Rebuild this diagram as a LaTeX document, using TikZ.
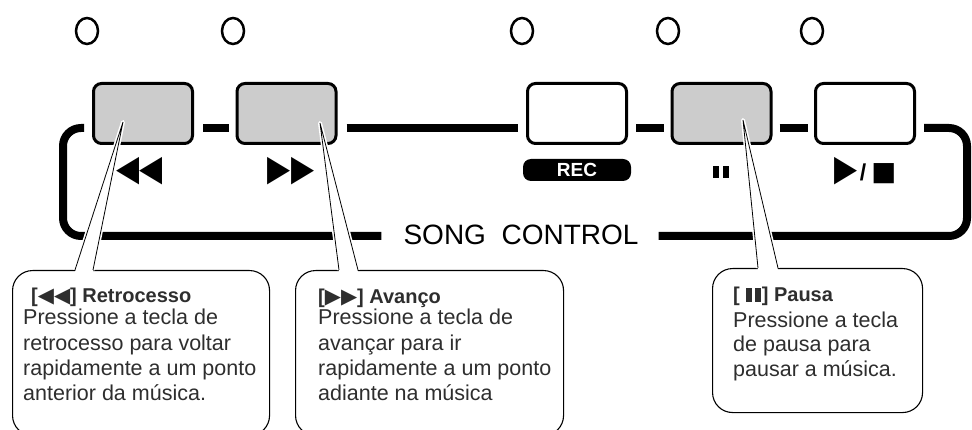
\documentclass[tikz,border=0pt]{standalone}
\usepackage{graphicx}
\usepackage{fontspec}
\setmainfont{Liberation Sans}
\newfontfamily\symfont{DejaVu Sans}
\usetikzlibrary{positioning,shapes.geometric}

\definecolor{keygray}{HTML}{CCCCCC}
\definecolor{inkgray}{HTML}{2E2E2E}

\tikzset{
  key/.style={draw, line width=3pt, rounded corners=8pt, minimum width=99pt,
    minimum height=60pt, inner sep=0pt},
  rail/.style={line width=8pt},
  lamp/.style={draw, ellipse, line width=2.5pt, minimum width=22pt,
    minimum height=26pt, inner sep=0pt},
  sym/.style={inner sep=0pt, font=\symfont\fontsize{24}{24}\selectfont},
  callout/.style={draw, line width=1.1pt, rounded corners=20pt, fill=white,
    inner sep=0pt, anchor=north west},
  halo/.style={white, line width=4pt, line join=round},
  pointer/.style={line width=0.8pt, line join=miter},
  ttl/.style={anchor=base west, inner sep=0pt, text=inkgray,
    font=\fontsize{20}{20}\selectfont\bfseries},
  txt/.style={anchor=base west, inner sep=0pt, text=inkgray,
    font=\fontsize{21.5}{25}\selectfont},
}
\newcommand\tsym[1]{{\symfont\fontsize{21}{21}\selectfont #1}}
\newcommand\keytri[1]{\scalebox{1.25}[1.5]{#1}}
\newcommand\pausebars[3]{\rule{#1}{#2}\hspace{#3}\rule{#1}{#2}}

\begin{document}
\begin{tikzpicture}[x=1pt, y=-1pt]
  \useasboundingbox (0,0) rectangle (972,430);

  % keys of the panel
  \node[key, fill=keygray] (rew)   at (143,113.5)   {};
  \node[key, fill=keygray] (ff)    at (286.5,113.5) {};
  \node[key]               (rec)   at (577,113.5)   {};
  \node[key, fill=keygray] (pause) at (721.5,113.5) {};
  \node[key]               (play)  at (865,113.5)   {};

  % lamps
  \foreach \n/\x in {rew/87, ff/233, rec/522, pause/668, play/812}
    \node[lamp] (lamp-\n) at (\x,31) {};

  % key labels
  \node[sym] (rewsym) at (139.5,171) {\keytri{◀◀}};
  \node[sym] (ffsym)  at (291,171) {\keytri{▶▶}};
  \node[fill=black, text=white, rounded corners=8pt, minimum width=108pt,
    minimum height=22pt, inner sep=0pt, font=\fontsize{19}{19}\selectfont\bfseries]
    (recsym) at (577,170) {REC};
  \node[inner sep=0pt] (pausesym) at (721,172) {\pausebars{6pt}{12pt}{4pt}};
  \node[sym] (playsym) at (865.5,171)
    {\keytri{▶}\hspace{2pt}{\rmfamily\bfseries\fontsize{23}{23}\selectfont /}\hspace{5pt}\scalebox{1.1}{■}};

  \node[inner sep=0pt, font=\fontsize{28}{28}\selectfont] (songctl) at (521,235)
    {SONG\ \ CONTROL};

  % rails
  \coordinate (railT) at (0,128);
  \coordinate (railB) at (0,236);
  \draw[rail, rounded corners=18pt] ([xshift=-8]rew.west |- railT) -- (63,128)
    -- (63,236) -- ([xshift=-22]songctl.west |- railB);
  \draw[rail] ([xshift=9]rew.east |- railT) -- ([xshift=-7]ff.west |- railT);
  \draw[rail] ([xshift=9]ff.east |- railT) -- ([xshift=-8]rec.west |- railT);
  \draw[rail] ([xshift=8]rec.east |- railT) -- ([xshift=-7]pause.west |- railT);
  \draw[rail] ([xshift=7]pause.east |- railT) -- ([xshift=-6]play.west |- railT);
  \draw[rail, rounded corners=18pt] ([xshift=8]play.east |- railT) -- (967,128)
    -- (967,236) -- ([xshift=20]songctl.east |- railB);

  % callouts
  \node[callout, minimum width=257pt, minimum height=165pt] (rewbox) at (12,270) {};
  \node[callout, minimum width=268pt, minimum height=165pt] (ffbox) at (295,270) {};
  \node[callout, minimum width=210pt, minimum height=144pt] (pausebox) at (712,268) {};

  \coordinate (rewtip)   at (123,122);
  \coordinate (fftip)    at (320,123);
  \coordinate (pausetip) at (743,120);
  \foreach \b/\t/\l/\r in {rewbox/rewtip/63/81, ffbox/fftip/44/63, pausebox/pausetip/46/66} {
    \draw[halo] ([xshift=\l]\b.north west) -- (\t) -- ([xshift=\r]\b.north west);
    \fill[white] ([shift={(\l,2)}]\b.north west) -- (\t) -- ([shift={(\r,2)}]\b.north west) -- cycle;
    \draw[pointer] ([xshift=\l]\b.north west) -- (\t) -- ([xshift=\r]\b.north west);
  }

  % texts
  \node[ttl] (rewttl) at (31,303) {[\tsym{◀◀}] Retrocesso};
  \foreach \s [count=\i] in {Pressione a tecla de, retrocesso para voltar,
      rapidamente a um ponto, anterior da música.}
    \node[txt] (rewtxt-\i) at (23,300+25*\i) {\s};

  \node[ttl] (ffttl) at (318,304) {[\tsym{▶▶}] Avanço};
  \foreach \s [count=\i] in {Pressione a tecla de, avançar para ir,
      rapidamente a um ponto, adiante na música}
    \node[txt] (fftxt-\i) at (318,300+25*\i) {\s};

  \node[ttl] (pausettl) at (733,302)
    {[\hspace{6pt}\pausebars{6pt}{14pt}{3pt}\hspace{1pt}] Pausa};
  \foreach \s [count=\i] in {Pressione a tecla, de pausa para, pausar a música.}
    \node[txt] (pausetxt-\i) at (733,302+25*\i) {\s};
\end{tikzpicture}
\end{document}
